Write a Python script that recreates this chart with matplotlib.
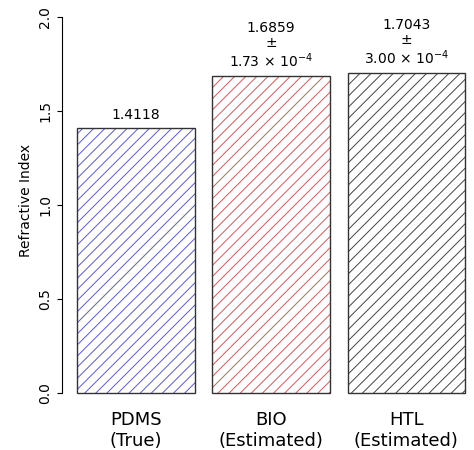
import matplotlib
matplotlib.use("Agg")
import matplotlib.pyplot as plt

categories = ["PDMS\n(True)", "BIO\n(Estimated)", "HTL\n(Estimated)"]
values = [1.4118, 1.6859, 1.7043]
labels = ["1.4118", "1.6859\n±\n1.73 × 10$^{-4}$", "1.7043\n±\n3.00 × 10$^{-4}$"]
colors = ["#5a5acc", "#cc5a5a", "#444444"]

plt.rcParams['hatch.linewidth'] = 0.7
fig = plt.figure(figsize=(4.74, 4.5), dpi=100)
ax = fig.add_axes([62/474, 50/450, 412/474, 400/450])
x = range(len(values))
for i, (v, c) in enumerate(zip(values, colors)):
    ax.bar(i, v, width=0.87, facecolor="white", edgecolor=c, hatch="///", linewidth=0)
    ax.bar(i, v, width=0.87, facecolor="none", edgecolor="#333333", linewidth=1.0)
    ax.text(i, v + 0.03, labels[i], ha="center", va="bottom", fontsize=10, linespacing=1.1)
ax.set_xlim(-0.548, 2.5)
ax.set_ylim(-0.037, 2.09)
ax.set_xticks(list(x))
ax.set_xticklabels(categories, fontsize=13)
ax.tick_params(axis="x", length=0, pad=8)
ax.set_yticks([0, 0.5, 1.0, 1.5, 2.0])
ax.set_yticklabels(["0.0", "0.5", "1.0", "1.5", "2.0"], rotation=90, va="center", fontsize=10)
for s in ["top", "right", "bottom"]:
    ax.spines[s].set_visible(False)
ax.spines["left"].set_bounds(0, 2.0)
ax.set_ylabel("Refractive Index", fontsize=10)
fig.savefig("out.png", dpi=100)
